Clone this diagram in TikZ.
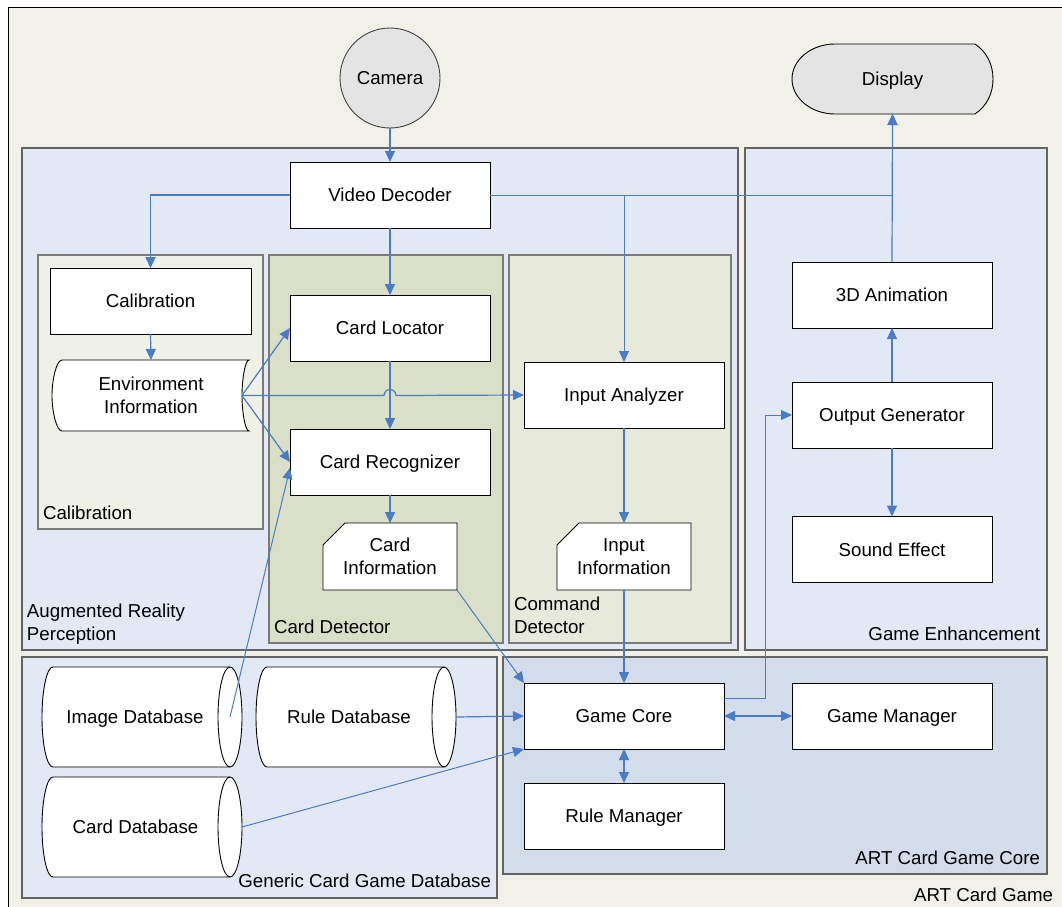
\documentclass[tikz,border=0pt]{standalone}
\usepackage{fontspec}
\setmainfont{Liberation Sans}
\usetikzlibrary{arrows.meta,calc}

\definecolor{bgframe}{HTML}{F1F1EA}
\definecolor{panelblue}{HTML}{E3E9F4}
\definecolor{coreblue}{HTML}{D2DCEB}
\definecolor{calibfill}{HTML}{EFF0E6}
\definecolor{detfill}{HTML}{DADFC8}
\definecolor{cmdfill}{HTML}{E7EADB}
\definecolor{flow}{HTML}{4A7CC6}
\definecolor{panelline}{HTML}{636363}
\definecolor{subline}{HTML}{7A7A7A}
\definecolor{devfill}{HTML}{E4E4E4}

\pgfdeclarelayer{back}
\pgfdeclarelayer{mid}
\pgfsetlayers{back,mid,main}

% horizontal drum used for the database stores: #1 left, #2 right, #3 top (height 100)
\newcommand\drumstore[3]{%
  \draw[shapeline] (#1+11,#3) -- (#2-12,#3)
    .. controls (#2-5.4,#3) and (#2,#3+22.4) .. (#2,#3+50)
    .. controls (#2,#3+77.6) and (#2-5.4,#3+100) .. (#2-12,#3+100)
    -- (#1+11,#3+100)
    .. controls (#1+4.9,#3+100) and (#1,#3+77.6) .. (#1,#3+50)
    .. controls (#1,#3+22.4) and (#1+4.9,#3) .. (#1+11,#3) -- cycle;
  \draw[shapeline, fill=none] (#2-12,#3)
    .. controls (#2-18.6,#3) and (#2-24,#3+22.4) .. (#2-24,#3+50)
    .. controls (#2-24,#3+77.6) and (#2-18.6,#3+100) .. (#2-12,#3+100);}

\begin{document}
\begin{tikzpicture}[x=1pt,y=-1pt,
  font=\fontsize{18.7}{22.5}\selectfont,
  capcenter/.style={text height=13.4pt, text depth=0pt},
  box/.style={draw=black, line width=0.9pt, fill=white, minimum width=200pt,
    minimum height=66pt, inner sep=0pt, outer sep=0pt, capcenter},
  ghost/.style={draw=none, inner sep=0pt, outer sep=0pt, align=center},
  shapeline/.style={draw=black, line width=0.9pt, fill=white},
  panel/.style={draw=panelline, line width=1.4pt},
  subpanel/.style={draw=subline, line width=1.2pt},
  tag/.style={inner sep=0pt, outer sep=0pt, align=left},
  flowline/.style={draw=flow, line width=1.2pt},
  arr/.style={flowline, -{Triangle[length=11pt,width=10pt]}},
  darr/.style={flowline, {Triangle[length=11pt,width=10pt]}-{Triangle[length=11pt,width=10pt]}}]

\useasboundingbox (0,0) rectangle (1062,906);

% ---------- frames ----------
\begin{pgfonlayer}{back}
  \draw[fill=bgframe, draw=black, line width=1pt] (8.5,7.5) rectangle (1070,920);
  \draw[panel, fill=panelblue] (22,148) rectangle (738,650);
  \draw[panel, fill=panelblue] (745,148) rectangle (1047,650);
  \draw[panel, fill=panelblue] (22,657) rectangle (497,898);
  \draw[panel, fill=coreblue] (503,657) rectangle (1047,874);
  \draw[subpanel, fill=calibfill] (38,255) rectangle (263,529);
  \draw[subpanel, fill=detfill] (269,255) rectangle (503,643);
  \draw[subpanel, fill=cmdfill] (509,255) rectangle (731,643);
\end{pgfonlayer}

% ---------- frame labels (base = baseline of the last line) ----------
\node[tag, anchor=base west] (tcal) at (43,519) {Calibration};
\node[tag, anchor=base west] (tarp) at (27,640) {Augmented Reality\\Perception};
\node[tag, anchor=base west] (tdet) at (274,633) {Card Detector};
\node[tag, anchor=base west] (tcmd) at (514,633) {Command\\Detector};
\node[tag, anchor=base east] (tenh) at (1040,640) {Game Enhancement};
\node[tag, anchor=base east] (tdb) at (491,887) {Generic Card Game Database};
\node[tag, anchor=base east] (tcore) at (1040,864) {ART Card Game Core};
\node[tag, anchor=base east] (tart) at (1053,901) {ART Card Game};

% ---------- devices ----------
\node[circle, draw=black!75, line width=0.9pt, fill=devfill, minimum size=100pt,
  inner sep=0pt, capcenter] (cam) at (390,78) {Camera};
\node[ghost, capcenter, minimum width=201pt, minimum height=70pt] (disp) at (892.5,79) {Display};

% ---------- process boxes ----------
\node[box] (vd) at (390,195) {Video Decoder};
\node[box, minimum width=201pt] (calbox) at (150.5,301) {Calibration};
\node[ghost, minimum width=198pt, minimum height=71pt] (env) at (151,395.5) {Environment\\Information};
\node[box] (loc) at (390,328) {Card Locator};
\node[box] (rec) at (390,462) {Card Recognizer};
\node[ghost, minimum width=134pt, minimum height=67pt] (cinfo) at (390,556.5) {Card\\Information};
\node[box] (ia) at (624,395) {Input Analyzer};
\node[ghost, minimum width=134pt, minimum height=67pt] (iinfo) at (624,556.5) {Input\\Information};
\node[box] (anim) at (892,295) {3D Animation};
\node[box] (gen) at (892,415) {Output Generator};
\node[box] (snd) at (892,549.5) {Sound Effect};
\node[box] (core) at (624,716) {Game Core};
\node[box] (gm) at (892,716) {Game Manager};
\node[box] (rm) at (624,816) {Rule Manager};
\node[ghost, capcenter, minimum width=200pt, minimum height=100pt] (imgdb) at (142,717) {\hspace*{-14pt}Image Database};
\node[ghost, capcenter, minimum width=200pt, minimum height=100pt] (ruledb) at (356,717) {\hspace*{-14pt}Rule Database};
\node[ghost, capcenter, minimum width=200pt, minimum height=100pt] (carddb) at (142,827) {\hspace*{-13pt}Card Database};

% ---------- outlines of the special shapes ----------
\begin{pgfonlayer}{mid}
  % display
  \draw[shapeline, fill=devfill] (835,44) -- (975,44)
    .. controls (987,52) and (993,65) .. (993,79)
    .. controls (993,93) and (987,106) .. (975,114) -- (835,114)
    .. controls (811.3,114) and (792,98.3) .. (792,79)
    .. controls (792,59.7) and (811.3,44) .. (835,44) -- cycle;
  % stored data
  \draw[shapeline] (62,360) -- (249,360)
    .. controls (245.1,360) and (242,379.6) .. (242,395.5)
    .. controls (242,411.4) and (245.1,431) .. (249,431) -- (62,431)
    .. controls (56.5,431) and (52,411.4) .. (52,395.5)
    .. controls (52,379.6) and (56.5,360) .. (62,360) -- cycle;
  % documents with a cut corner
  \draw[shapeline] (345,523) -- (457,523) -- (457,590) -- (323,590) -- (323,545) -- cycle;
  \draw[shapeline] (579,523) -- (691,523) -- (691,590) -- (557,590) -- (557,545) -- cycle;
  % databases
  \drumstore{42}{242}{667}
  \drumstore{256}{456}{667}
  \drumstore{42}{242}{777}
\end{pgfonlayer}

% ---------- connectors ----------
\draw[arr] (cam.south) -- (vd.north);
\draw[arr, line width=1.8pt] (vd.west) -| (calbox.north);
\draw[arr] (vd.south) -- (loc.north);
\draw[arr, line width=1pt] (vd.east) -| (ia.north);
\draw[arr, line width=1pt] (vd.east) -| (disp.south);
\draw[arr] (anim.north) -- (disp.south);
\draw[arr] (calbox.south) -- (env.north);
\draw[arr] ([xshift=-8pt]env.east) -- (loc.west);
\draw[arr] ([xshift=-8pt]env.east) -- (rec.west);
\draw[arr] ([xshift=-8pt]env.east) -- ($(env.east -| loc.south)+(-6,0)$)
  arc[start angle=180,end angle=0,radius=6pt] -- (ia.west);
\draw[arr] (loc.south) -- (rec.north);
\draw[arr] (rec.south) -- (cinfo.north);
\draw[arr] (ia.south) -- (iinfo.north);
\draw[arr] (iinfo.south) -- (core.north);
\draw[arr, line width=1pt] (cinfo.south east) -- (core.north west);
\draw[arr, line width=1pt] ([xshift=-12pt]imgdb.east) -- ([yshift=-6pt]rec.west);
\draw[arr] (ruledb.east) -- (core.west);
\draw[arr, line width=1pt] (carddb.east) -- (core.south west);
\draw[arr, line width=1pt] ([yshift=18pt]core.east) -- ++(41,0) |- (gen.west);
\draw[darr] (core.east) -- (gm.west);
\draw[darr] (core.south) -- (rm.north);
\draw[arr] (gen.north) -- (anim.south);
\draw[arr] (gen.south) -- (snd.north);
\end{tikzpicture}
\end{document}
